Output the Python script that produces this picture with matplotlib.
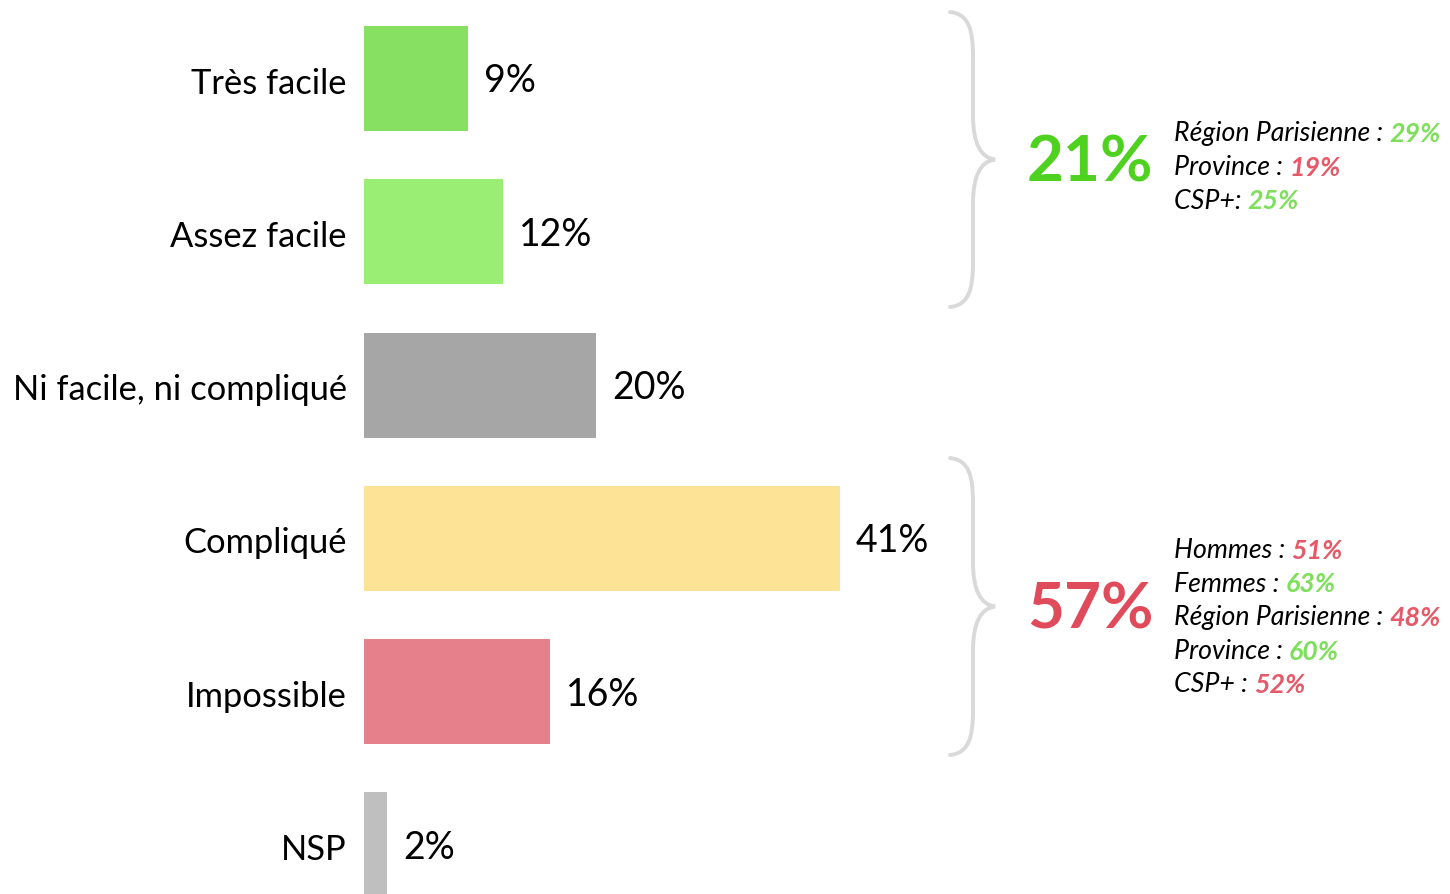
import matplotlib
matplotlib.use("Agg")
import matplotlib.pyplot as plt
from matplotlib.path import Path
from matplotlib.patches import PathPatch

# data
categories = ["Très facile", "Assez facile", "Ni facile, ni compliqué",
              "Compliqué", "Impossible", "NSP"]
values = [9, 12, 20, 41, 16, 2]
bar_colors = ["#88e062", "#9aee73", "#a6a6a6", "#fde395", "#e6808b", "#bfbfbf"]

easy_total = "21%"
easy_details = [("Région Parisienne : ", "29%", "g"),
                ("Province : ", "19%", "r"),
                ("CSP+: ", "25%", "g")]
hard_total = "57%"
hard_details = [("Hommes : ", "51%", "r"),
                ("Femmes : ", "63%", "g"),
                ("Région Parisienne : ", "48%", "r"),
                ("Province : ", "60%", "g"),
                ("CSP+ : ", "52%", "r")]

plt.rcParams['font.family'] = ['Lato', 'DejaVu Sans']

W, H = 1450, 894
fig = plt.figure(figsize=(W / 100, H / 100), dpi=100)

def fx(x):
    return x / W

def fy(y):
    return 1 - y / H

# bars: x origin at 364px, 11.6 px per %, rows every 153.3px
x0 = 364
ppu = 11.6
ax = fig.add_axes([fx(x0), 0, 1 - fx(x0), 1])
ax.set_xlim(0, (W - x0) / ppu)
step = 153.3
c0 = 78.5
ax.set_ylim((H - c0) / step, -c0 / step)
ax.axis("off")

ypos = list(range(len(categories)))
ax.barh(ypos, values, height=0.685, color=bar_colors)

for i, (cat, v) in enumerate(zip(categories, values)):
    ax.annotate(cat, xy=(0, i), xytext=(-17, -5), textcoords="offset pixels",
                ha="right", va="center", fontsize=24.8, color="black")
    ax.annotate("%d%%" % v, xy=(v, i), xytext=(16, -3), textcoords="offset pixels",
                ha="left", va="center", fontsize=27, color="black")

# braces
brace_col = "#d9d9d9"

def brace(top, bot, xl=950, xm=973, xt=995):
    mid = (top + bot) / 2.0
    pts = [(xl, top),
           (xm - 4, top + 2), (xm, top + 18), (xm, top + 45),
           (xm, mid - 45),
           (xm, mid - 15), (xm + 8, mid - 2), (xt, mid),
           (xm + 8, mid + 2), (xm, mid + 15), (xm, mid + 45),
           (xm, bot - 45),
           (xm, bot - 18), (xm - 4, bot - 2), (xl, bot)]
    codes = [Path.MOVETO,
             Path.CURVE4, Path.CURVE4, Path.CURVE4,
             Path.LINETO,
             Path.CURVE4, Path.CURVE4, Path.CURVE4,
             Path.CURVE4, Path.CURVE4, Path.CURVE4,
             Path.LINETO,
             Path.CURVE4, Path.CURVE4, Path.CURVE4]
    p = Path([(fx(a), fy(b)) for a, b in pts], codes)
    fig.patches.append(PathPatch(p, transform=fig.transFigure, fill=False,
                                 edgecolor=brace_col, lw=2.8, capstyle="round"))

brace(12, 307)
brace(458, 755)

green_big = "#4fd11f"
red_big = "#e04b5b"
col = {"g": "#7ddf5b", "r": "#e45a69"}

fig.text(fx(1027), fy(163), easy_total, ha="left", va="center",
         fontsize=46, fontweight="bold", color=green_big)
fig.text(fx(1027), fy(610), hard_total, ha="left", va="center",
         fontsize=46, fontweight="bold", color=red_big)

def details(lines, ytop, dy=33.5):
    for k, (lab, val, c) in enumerate(lines):
        t = fig.text(fx(1174), fy(ytop + k * dy), lab, ha="left", va="center",
                     fontsize=19.3, fontstyle="italic", color="black")
        plt.annotate(val, xy=(1, 0.5), xycoords=t, ha="left", va="center",
                     fontsize=19.3, fontstyle="italic", fontweight="bold",
                     color=col[c])

details(easy_details, 134)
details(hard_details, 551)

fig.savefig("out.png", dpi=100)
